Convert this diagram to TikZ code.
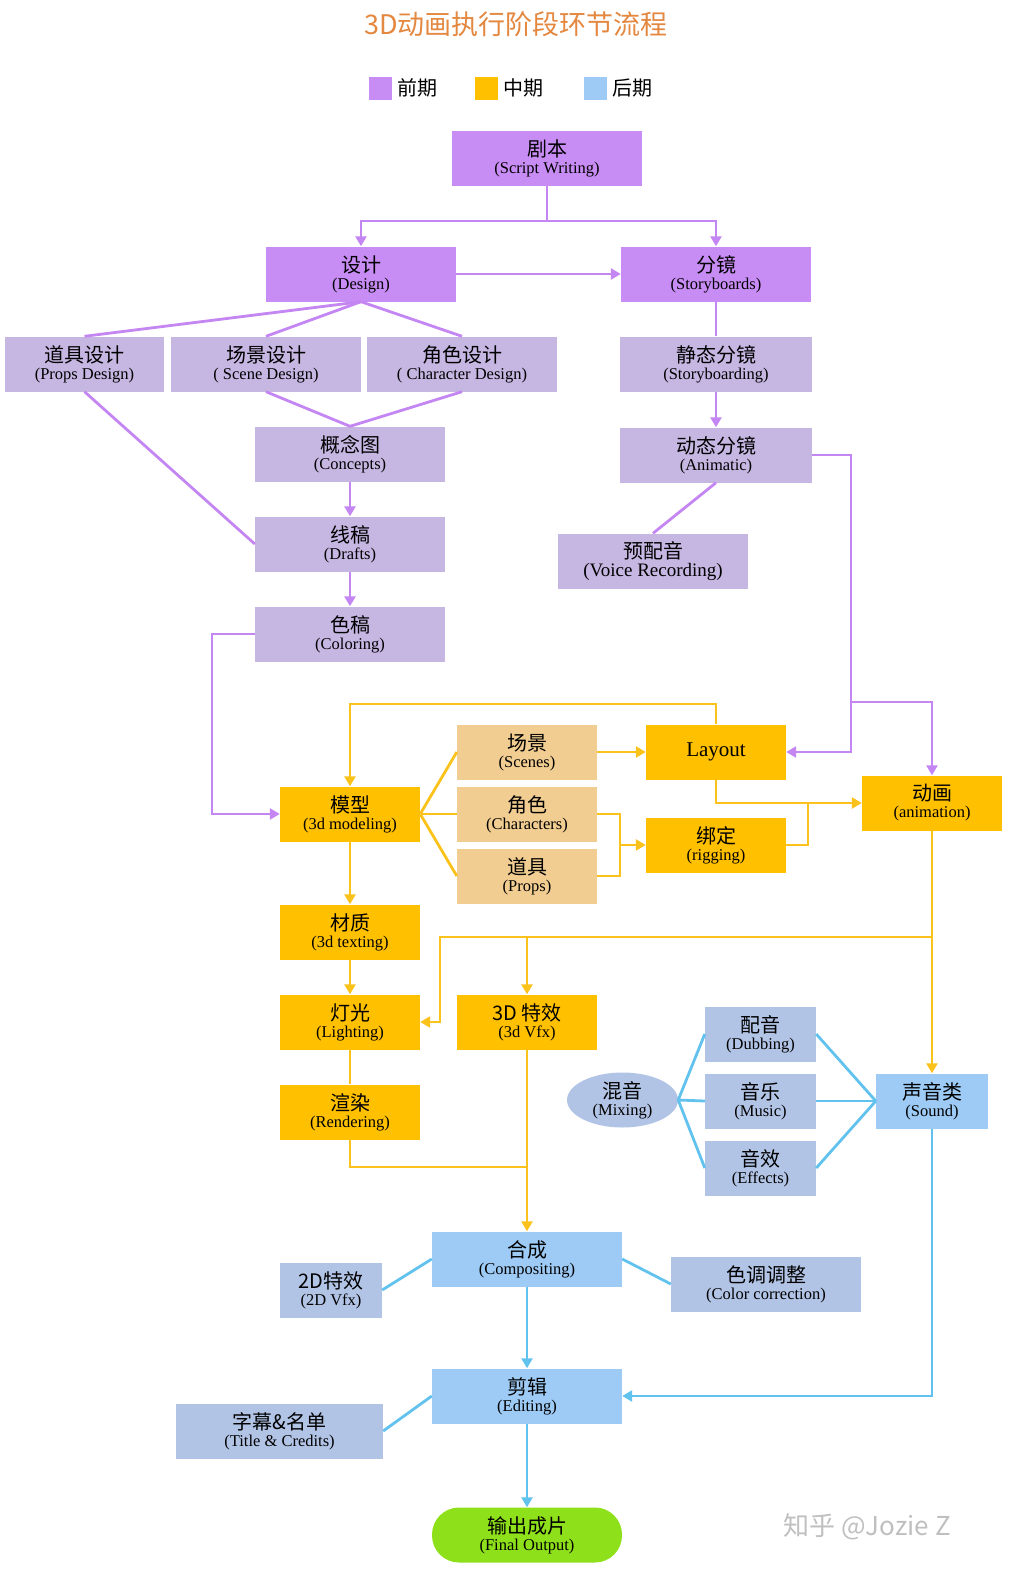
\documentclass[tikz,border=0pt]{standalone}
\usepackage{fontspec}
\setmainfont{Liberation Serif}
\newfontfamily\cjk{Noto Sans CJK SC}
\usetikzlibrary{arrows.meta,shapes.geometric}
\definecolor{vio}{HTML}{C88CF5}
\definecolor{lav}{HTML}{C6B6E2}
\definecolor{org}{HTML}{FFC000}
\definecolor{tan}{HTML}{F1CD91}
\definecolor{sky}{HTML}{9DCBF5}
\definecolor{gbl}{HTML}{B2C4E6}
\definecolor{grn}{HTML}{8EE11A}
\definecolor{lvio}{HTML}{C486F2}
\definecolor{lorg}{HTML}{FBC21C}
\definecolor{lblu}{HTML}{62C2EE}
\newcommand{\bx}[2]{{\cjk\fontsize{20}{22}\selectfont #1}\\[3pt]{\fontsize{16.5}{18}\selectfont #2}}
\tikzset{
 bxs/.style={minimum height=55pt,inner sep=0pt,align=center,text=black},
 wide/.style={bxs,minimum width=190pt},
 nar/.style={bxs,minimum width=140pt},
 pl/.style={draw=lvio,line width=2.8pt},
 ol/.style={draw=lorg,line width=2.8pt},
 bl/.style={draw=lblu,line width=2.8pt},
 ar/.style={-{Triangle[length=10pt,width=11pt]}},
}
\begin{document}
\begin{tikzpicture}[x=1pt,y=-1pt]
\useasboundingbox (0,0) rectangle (1009,1577);
\node (title) at (516,24) {\cjk\fontsize{27}{29}\selectfont\color[HTML]{E4873F}3D动画执行阶段环节流程};
% legend
\node[fill=vio,minimum size=23pt,inner sep=0pt] (l1) at (380,88) {};
\node[anchor=west] (t1) at (394,88) {\cjk\fontsize{20}{22}\selectfont 前期};
\node[fill=org,minimum size=23pt,inner sep=0pt] (l2) at (486,88) {};
\node[anchor=west] (t2) at (500,88) {\cjk\fontsize{20}{22}\selectfont 中期};
\node[fill=sky,minimum size=23pt,inner sep=0pt] (l3) at (595,88) {};
\node[anchor=west] (t3) at (609,88) {\cjk\fontsize{20}{22}\selectfont 后期};
% nodes
\node[wide,fill=vio] (jb) at (547,158) {\bx{剧本}{(Script Writing)}};
\node[wide,fill=vio] (sj) at (361,274) {\bx{设计}{(Design)}};
\node[wide,fill=vio] (fj) at (716,274) {\bx{分镜}{(Storyboards)}};
\node[bxs,minimum width=159pt,fill=lav] (djsj) at (84.5,364) {\bx{道具设计}{(Props Design)}};
\node[wide,fill=lav] (cjsj) at (266,364) {\bx{场景设计}{( Scene Design)}};
\node[wide,fill=lav] (jssj) at (462,364) {\bx{角色设计}{( Character Design)}};
\node[bxs,minimum width=192pt,fill=lav] (jtfj) at (716,364) {\bx{静态分镜}{(Storyboarding)}};
\node[wide,fill=lav] (gnt) at (350,454) {\bx{概念图}{(Concepts)}};
\node[bxs,minimum width=192pt,fill=lav] (dtfj) at (716,455) {\bx{动态分镜}{(Animatic)}};
\node[wide,fill=lav] (xg) at (350,544) {\bx{线稿}{(Drafts)}};
\node[wide,fill=lav] (ypy) at (653,561) {\bx{预配音}{{\fontsize{19}{20}\selectfont(Voice Recording)}}};
\node[wide,fill=lav] (sg) at (350,634) {\bx{色稿}{(Coloring)}};
\node[nar,fill=tan] (cj) at (527,752) {\bx{场景}{(Scenes)}};
\node[nar,fill=org] (lay) at (716,752) {\fontsize{21}{23}\selectfont Layout};
\node[nar,fill=org] (mx) at (350,814) {\bx{模型}{(3d modeling)}};
\node[nar,fill=tan] (js) at (527,814) {\bx{角色}{(Characters)}};
\node[nar,fill=org] (dh) at (932,803) {\bx{动画}{(animation)}};
\node[nar,fill=org] (bd) at (716,845) {\bx{绑定}{(rigging)}};
\node[nar,fill=tan] (dj) at (527,876) {\bx{道具}{(Props)}};
\node[nar,fill=org] (cz) at (350,932) {\bx{材质}{(3d texting)}};
\node[nar,fill=org] (dg) at (350,1022) {\bx{灯光}{(Lighting)}};
\node[nar,fill=org] (tx) at (527,1022) {\bx{3D 特效}{(3d Vfx)}};
\node[bxs,minimum width=111pt,fill=gbl] (py) at (760.5,1034) {\bx{配音}{(Dubbing)}};
\node[ellipse,minimum width=111pt,minimum height=55pt,inner sep=0pt,align=center,fill=gbl] (hy) at (622.5,1100) {\bx{混音}{(Mixing)}};
\node[bxs,minimum width=111pt,fill=gbl] (yl) at (760.5,1101) {\bx{音乐}{(Music)}};
\node[bxs,minimum width=112pt,fill=sky] (syl) at (932,1101) {\bx{声音类}{(Sound)}};
\node[nar,fill=org] (xr) at (350,1112) {\bx{渲染}{(Rendering)}};
\node[bxs,minimum width=111pt,fill=gbl] (yx) at (760.5,1168) {\bx{音效}{(Effects)}};
\node[wide,fill=sky] (hc) at (527,1259) {\bx{合成}{(Compositing)}};
\node[bxs,minimum width=102pt,fill=gbl] (td) at (331,1290) {\bx{2D特效}{(2D Vfx)}};
\node[wide,fill=gbl] (sd) at (766,1284) {\bx{色调调整}{(Color correction)}};
\node[wide,fill=sky] (jj) at (527,1396) {\bx{剪辑}{(Editing)}};
\node[bxs,minimum width=207pt,fill=gbl] (zm) at (279.5,1431) {\bx{字幕\&名单}{(Title \& Credits)}};
\node[wide,fill=grn,rounded corners=27pt] (sc) at (527,1535) {\bx{输出成片}{(Final Output)}};
\node[anchor=west,text=black!25] (wm) at (780,1527) {\cjk\fontsize{26}{28}\selectfont 知乎 @Jozie Z};
% purple connectors
\coordinate (j1) at (547,221);
\draw[pl] (jb.south) -- (j1);
\draw[pl,ar] (j1) -| (sj.north);
\draw[pl,ar] (j1) -| (fj.north);
\draw[pl,ar] (sj.east) -- (fj.west);
\draw[pl] (sj.south) -- (djsj.north);
\draw[pl] (sj.south) -- (cjsj.north);
\draw[pl] (sj.south) -- (jssj.north);
\draw[pl] (cjsj.south) -- (gnt.north);
\draw[pl] (jssj.south) -- (gnt.north);
\draw[pl] (djsj.south) -- (xg.west);
\draw[pl,ar] (gnt) -- (xg);
\draw[pl,ar] (xg) -- (sg);
\draw[pl] (fj) -- (jtfj);
\draw[pl,ar] (jtfj) -- (dtfj);
\draw[pl] (dtfj.south) -- (ypy.north);
\coordinate (p1) at (851,455);
\coordinate (p2) at (851,702);
\draw[pl,ar] (dtfj.east) -- (p1) |- (lay.east);
\draw[pl,ar] (p2) -| (dh.north);
\coordinate (p3) at (212,634);
\draw[pl,ar] (sg.west) -- (p3) |- (mx.west);
% orange connectors
\coordinate (o1) at (716,704);
\draw[ol,ar] (lay.north) -- (o1) -| (mx.north);
\draw[ol,ar] (cj) -- (lay);
\draw[ol] (mx.east) -- (cj.west);
\draw[ol] (mx.east) -- (js.west);
\draw[ol] (mx.east) -- (dj.west);
\coordinate (o2) at (620,845);
\draw[ol] (js.east) -| (o2) |- (dj.east);
\draw[ol,ar] (o2) -- (bd.west);
\coordinate (o3) at (808,803);
\draw[ol,ar] (lay.south) |- (dh.west);
\draw[ol] (bd.east) -| (o3);
\draw[ol,ar] (mx) -- (cz);
\draw[ol,ar] (cz) -- (dg);
\draw[ol] (dg) -- (xr);
\coordinate (o4) at (932,937);
\coordinate (o5) at (440,937);
\coordinate (o6) at (527,937);
\draw[ol,ar] (dh.south) -- (syl.north);
\draw[ol,ar] (o4) -- (o5) |- (dg.east);
\draw[ol,ar] (o6) -- (tx.north);
\draw[ol,ar] (tx.south) -- (hc.north);
\coordinate (o7) at (527,1167);
\draw[ol] (xr.south) |- (o7);
% blue connectors
\draw[bl] (syl.west) -- (py.east);
\draw[bl] (syl.west) -- (yl.east);
\draw[bl] (syl.west) -- (yx.east);
\draw[bl] (hy.east) -- (py.west);
\draw[bl] (hy.east) -- (yl.west);
\draw[bl] (hy.east) -- (yx.west);
\draw[bl] (td.east) -- (hc.west);
\draw[bl] (sd.west) -- (hc.east);
\draw[bl,ar] (hc) -- (jj);
\draw[bl,ar] (syl.south) |- (jj.east);
\draw[bl] (zm.east) -- (jj.west);
\draw[bl,ar] (jj) -- (sc);
\end{tikzpicture}
\end{document}
